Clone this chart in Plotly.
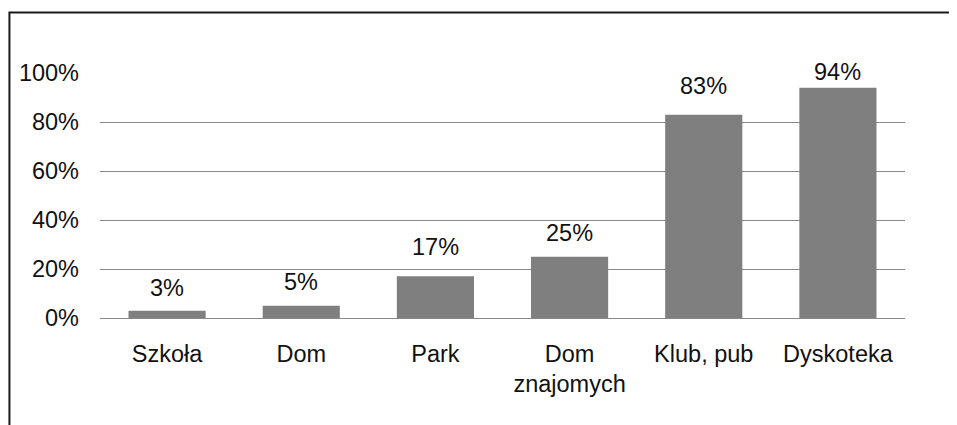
import plotly.graph_objects as go

# miejsca i odsetek odpowiedzi
places = ["Szkoła", "Dom", "Park", "Dom<br>znajomych", "Klub, pub", "Dyskoteka"]
share_pct = [3, 5, 17, 25, 83, 94]
y_ticks = [0, 0.2, 0.4, 0.6, 0.8, 1.0]

# odstęp etykiety nad słupkiem (px), jak w oryginale
label_gap = [13, 14, 19, 14, 19, 6]

BAR = "#7f7f7f"
GRID = "#888888"
FONT = "Liberation Sans, Arial, sans-serif"
FS = 23.5

fig = go.Figure(go.Bar(
    x=places,
    y=[v / 100 for v in share_pct],
    marker=dict(color=BAR, line=dict(width=0)),
    hoverinfo="skip",
))

for cat, v, gap in zip(places, share_pct, label_gap):
    fig.add_annotation(x=cat, y=v / 100, text=f"{v}%", showarrow=False,
                       yanchor="bottom", yshift=gap - 5,
                       font=dict(size=FS, color="#111111", family=FONT))

# page body has an 8px margin, margins are shifted to compensate
fig.update_layout(
    width=957, height=425,
    margin=dict(l=92, r=60, t=65, b=115),
    paper_bgcolor="white", plot_bgcolor="white",
    bargap=0.425,
    showlegend=False,
    font=dict(family=FONT, size=FS, color="#111111"),
    # ramka wykresu (lewa i górna krawędź widoczne w kadrze)
    shapes=[dict(type="rect", xref="paper", yref="paper",
                 x0=-0.1125, x1=1.2, y0=-0.6, y1=1.247,
                 line=dict(color="#1a1a1a", width=2), layer="below")],
)
fig.update_yaxes(range=[0, 1], tickvals=y_ticks, tickformat=".0%",
                 showgrid=True, gridcolor=GRID, gridwidth=1,
                 zeroline=True, zerolinecolor=GRID, zerolinewidth=1,
                 showline=False, ticks="", ticklabelstandoff=20,
                 tickfont=dict(size=FS, color="#111111"))
fig.update_xaxes(showgrid=False, showline=False, ticks="",
                 ticklabelstandoff=19,
                 tickfont=dict(size=FS, color="#111111"))

fig.write_html("out.html")
